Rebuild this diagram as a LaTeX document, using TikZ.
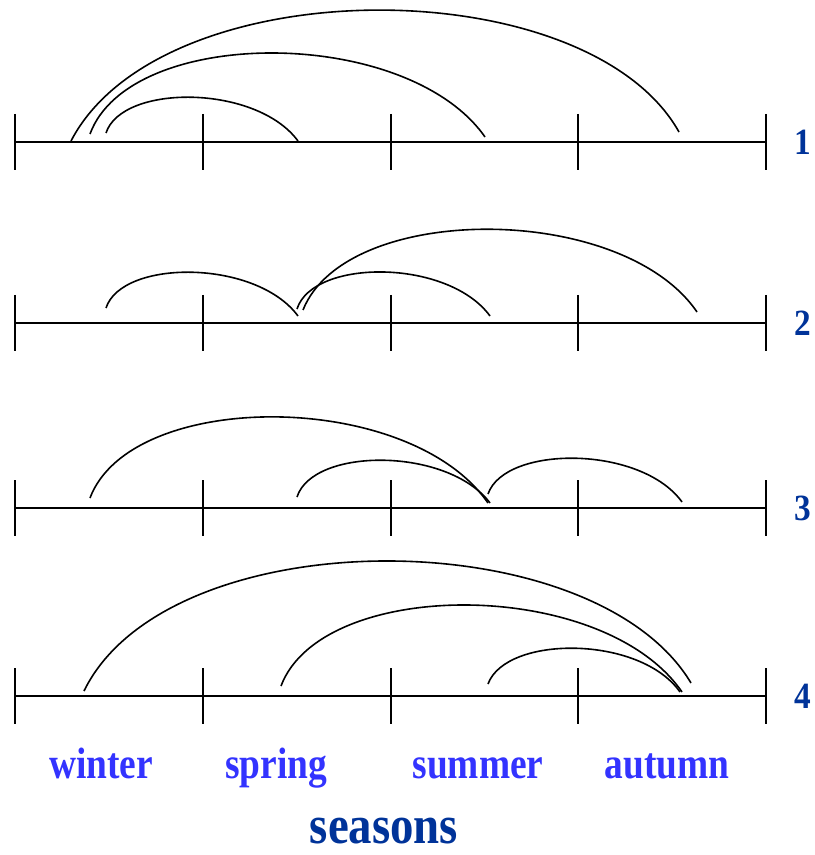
\documentclass[tikz,border=0pt]{standalone}
\usepackage{fontspec}
\setmainfont{Liberation Serif}
\usepackage{tikz}
\usetikzlibrary{positioning}
\definecolor{seasonblue}{RGB}{51,51,255}
\definecolor{rowblue}{RGB}{0,51,153}

\begin{document}
\begin{tikzpicture}[x=0.5pt, y=-0.5pt,
  axis/.style={line width=1pt},
  link/.style={line width=0.8pt},
  rownum/.style={font=\bfseries\fontsize{18.5}{20}\selectfont,
    text=rowblue, xscale=0.9, inner sep=0pt},
  season/.style={font=\bfseries\fontsize{22}{24}\selectfont,
    text=seasonblue, xscale=0.85, anchor=base, inner sep=0pt},
]
  \useasboundingbox (0,0) rectangle (814,855);
  % Time lines with ticks and row numbers
  \foreach \r/\y in {1/142,2/323,3/508,4/696}{
    \draw[axis] (15,\y) -- (766,\y);
    \foreach \x in {15,203,391,578,766}{
      \draw[axis] (\x,\y-28) -- (\x,\y+28);
    }
    \node[rownum] (row\r) at (803,\y) {\r};
  }
  % Arcs: start / controls / end
  \foreach \xa/\ya/\ca/\cb/\cy/\xb/\yb in {
      71/141/161/587/-32/679/132, 90/134/130/407/25.5/485/137,
      106/133/122/256/84/298/141,
      106/308/122/256/259/298/316, 297/309/313/448/258.5/490/316,
      303/310/346/622/202/697/312,
      90/498/131/409/389/488/503, 297/497/313/448/447/490/503,
      488/494/505/641/445/682/502,
      84/691/168/593/519/691/683, 281/686/322/603/577/682/692,
      488/684/506/640/635/680/692}{
    \draw[link] (\xa,\ya) .. controls (\ca,\cy) and (\cb,\cy) .. (\xb,\yb);
  }
  % Season labels
  \node[season] (winter) at (101,778) {winter};
  \node[season] (spring) at (276,778) {spring};
  \node[season] (summer) at (478,778) {summer};
  \node[season] (autumn) at (667,778) {autumn};
  \node[season, text=rowblue, font=\bfseries\fontsize{27}{30}\selectfont,
    xscale=1.02] (seasons) at (384,843) {seasons};
\end{tikzpicture}
\end{document}
